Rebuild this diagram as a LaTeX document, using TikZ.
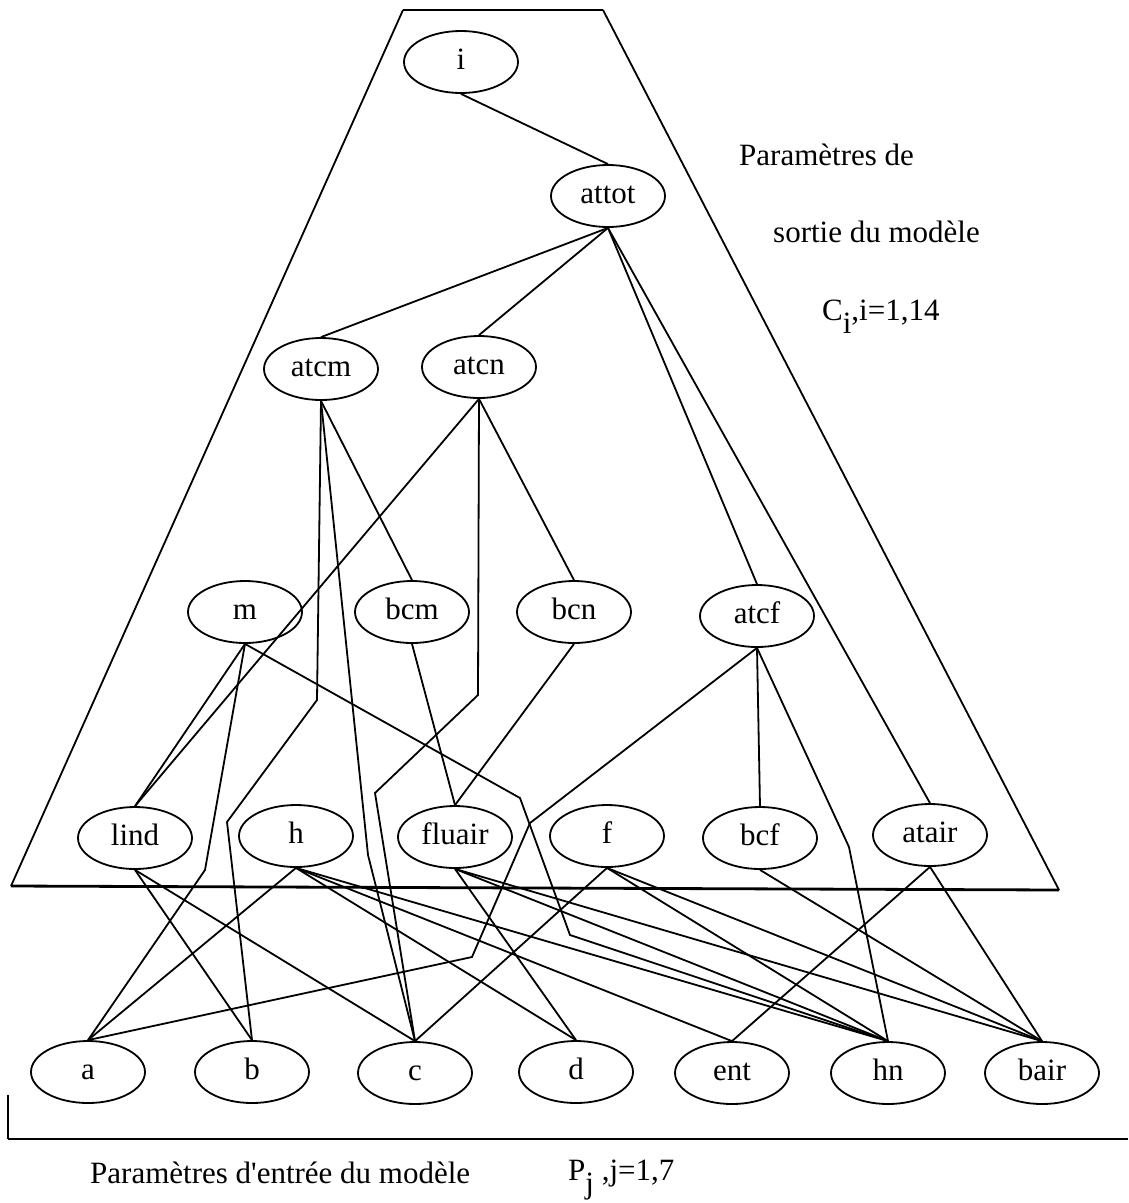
\documentclass[tikz,border=0pt]{standalone}
\usepackage{fontspec}
\setmainfont{Liberation Serif}
\usetikzlibrary{shapes.geometric}

\begin{document}
\begin{tikzpicture}[x=1pt,y=-1pt,
  every node/.style={font=\fontsize{31}{36}\selectfont},
  param/.style={draw, ellipse, line width=1.8pt, minimum width=114pt, minimum height=62pt,
    inner sep=0pt, text height=19pt, text depth=5pt},
  lien/.style={line width=1.8pt},
  lbl/.style={anchor=base west, inner sep=0pt}]
% graphe des parametres du modele : sorties en haut, entrees en bas
\useasboundingbox (0,0) rectangle (1128,1203);

\coordinate (Ttl) at (403,10);
\coordinate (Ttr) at (603,10);
\coordinate (Tbr) at (1059,890);
\coordinate (Tbl) at (11,886);
\draw[line width=1.8pt] (Tbl) -- (Ttl);
\draw[line width=2.6pt] (Ttl) -- (Ttr);
\draw[line width=1.8pt] (Ttr) -- (Tbr);
\draw[line width=2.8pt] (Tbr) -- (Tbl);

\coordinate (Bt) at (8,1095);
\coordinate (Bl) at (8,1139);
\coordinate (Br) at (1128,1139);
\draw[line width=1.8pt] (Bt) -- (Bl);
\draw[line width=2.8pt] (Bl) -- (Br);

\node[param] (i) at (461,62) {i};
\node[param] (attot) at (608,196) {attot};
\node[param] (atcm) at (321,369) {atcm};
\node[param] (atcn) at (479,367) {atcn};

\node[param] (m) at (245,612) {m};
\node[param] (bcm) at (412,612) {bcm};
\node[param] (bcn) at (574,612) {bcn};
\node[param] (atcf) at (757,616) {atcf};

\node[param] (lind) at (135,838) {lind};
\node[param] (h) at (296,836) {h};
\node[param] (fluair) at (455,837) {fluair};
\node[param] (f) at (607,836) {f};
\node[param] (bcf) at (760,838) {bcf};
\node[param] (atair) at (930,835) {atair};

\node[param] (a) at (88,1072) {a};
\node[param] (b) at (252,1072) {b};
\node[param] (c) at (415,1073) {c};
\node[param] (d) at (576,1072) {d};
\node[param] (ent) at (732,1073) {ent};
\node[param] (hn) at (888,1073) {hn};
\node[param] (bair) at (1042,1073) {bair};

\node[lbl] (sortie1) at (739,165) {Paramètres de};
\node[lbl] (sortie2) at (773,242) {sortie du modèle};
\node[lbl] (sortie3) at (822,320) {C\raisebox{-13pt}{i},i=1,14};
\node[lbl] (entree1) at (90,1183) {Paramètres d\textquotesingle entrée du modèle};
\node[lbl] (entree2) at (568,1180) {P\raisebox{-13pt}{j} ,j=1,7};

\coordinate (atcmb1) at (317,700);
\coordinate (atcmb2) at (227,822);
\coordinate (atcmc) at (368,855);
\coordinate (atcnc1) at (478,695);
\coordinate (atcnc2) at (375,793);
\coordinate (atcfa1) at (530,823);
\coordinate (atcfa2) at (472,957);
\coordinate (atcfhn) at (849,847);
\coordinate (ma) at (205,870);
\coordinate (mhn1) at (520,798);
\coordinate (mhn2) at (570,935);

\draw[lien] (i.south) -- (attot.north);
\draw[lien] (attot.south) -- (atcm.north);
\draw[lien] (attot.south) -- (atcn.north);
\draw[lien] (attot.south) -- (atcf.north);
\draw[lien] (attot.south) -- (atair.north);

\draw[lien] (atcm.south) -- (bcm.north);
\draw[lien] (atcm.south) -- (atcmb1) -- (atcmb2) -- (b.north);
\draw[lien] (atcm.south) -- (atcmc) -- (c.north);
\draw[lien] (atcn.south) -- (bcn.north);
\draw[lien] (atcn.south) -- (lind.north);
\draw[lien] (atcn.south) -- (atcnc1) -- (atcnc2) -- (c.north);

\draw[lien] (m.south) -- (lind.north);
\draw[lien] (m.south) -- (ma) -- (a.north);
\draw[lien] (m.south) -- (mhn1) -- (mhn2) -- (hn.north);
\draw[lien] (bcm.south) -- (fluair.north);
\draw[lien] (bcn.south) -- (fluair.north);
\draw[lien] (atcf.south) -- (bcf.north);
\draw[lien] (atcf.south) -- (atcfhn) -- (hn.north);
\draw[lien] (atcf.south) -- (atcfa1) -- (atcfa2) -- (a.north);

\draw[lien] (lind.south) -- (b.north);
\draw[lien] (lind.south) -- (c.north);
\draw[lien] (h.south) -- (a.north);
\draw[lien] (h.south) -- (d.north);
\draw[lien] (h.south) -- (ent.north);
\draw[lien] (h.south) -- (hn.north);
\draw[lien] (fluair.south) -- (d.north);
\draw[lien] (fluair.south) -- (hn.north);
\draw[lien] (fluair.south) -- (bair.north);
\draw[lien] (f.south) -- (c.north);
\draw[lien] (f.south) -- (hn.north);
\draw[lien] (f.south) -- (bair.north);
\draw[lien] (bcf.south) -- (bair.north);
\draw[lien] (atair.south) -- (ent.north);
\draw[lien] (atair.south) -- (bair.north);

\end{tikzpicture}
\end{document}
